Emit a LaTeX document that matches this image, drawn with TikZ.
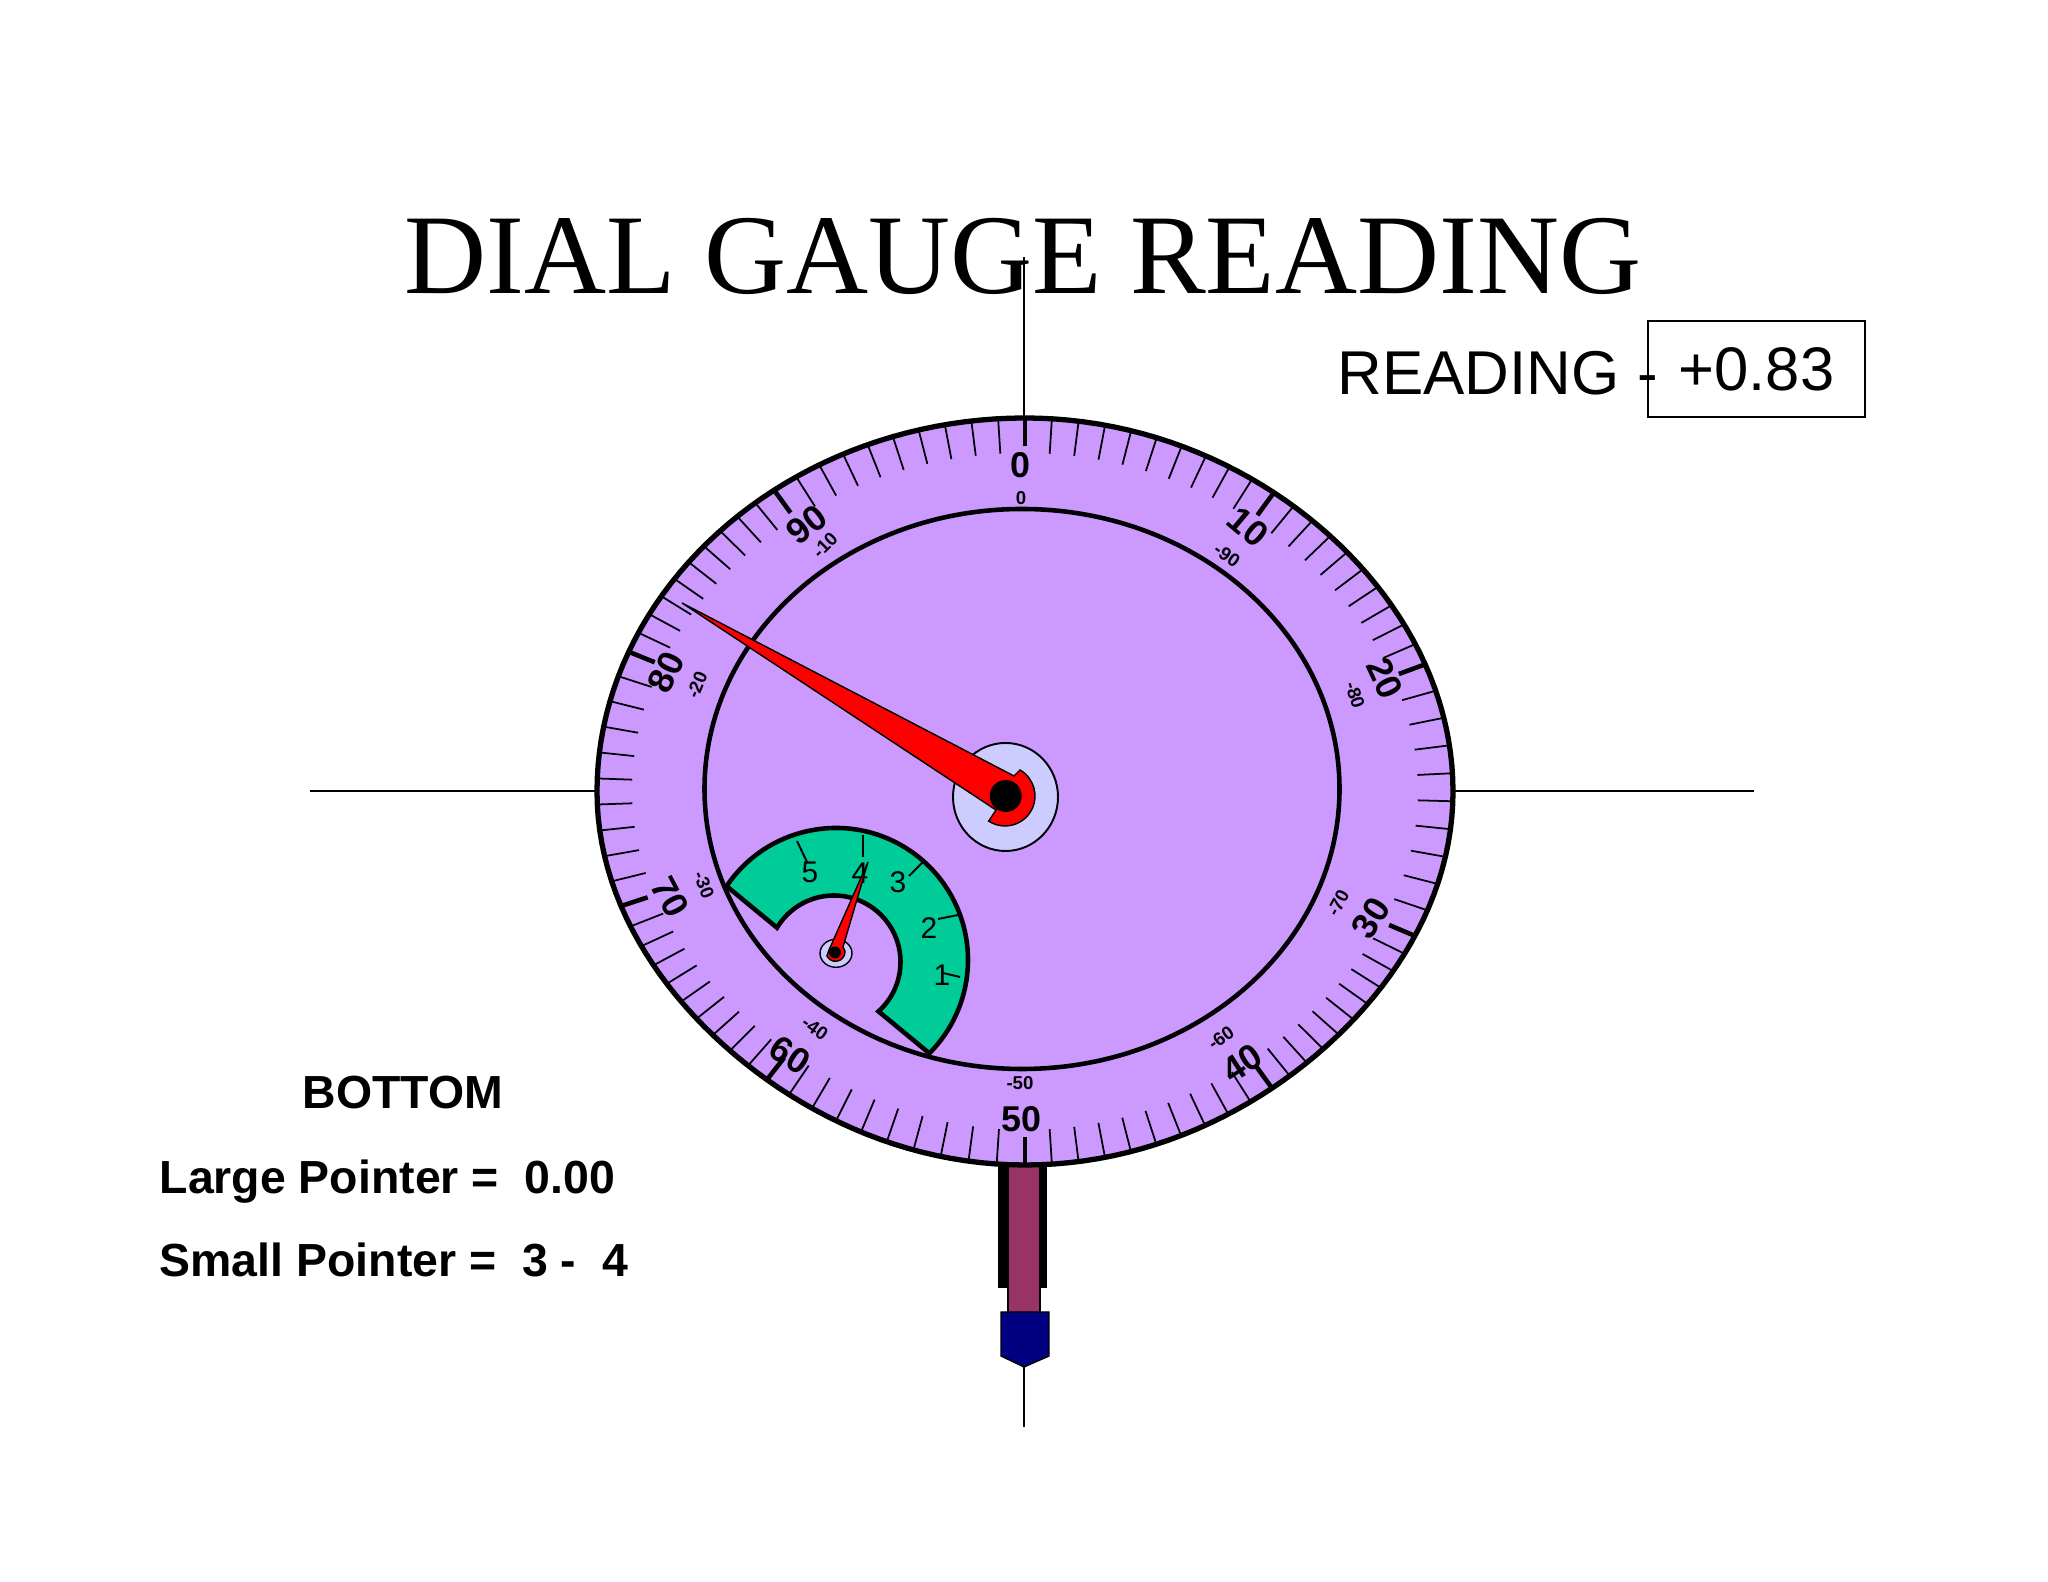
\documentclass[tikz,border=0pt]{standalone}
\usepackage{fontspec}
\usepackage{xcolor}
\setmainfont{Liberation Sans}
\newfontfamily\titlefont{Liberation Serif}
\definecolor{dialface}{HTML}{CC99FF}
\definecolor{hubface}{HTML}{CCCCFF}
\definecolor{sectorface}{HTML}{00CC99}
\definecolor{stemface}{HTML}{993366}
\definecolor{tipface}{HTML}{000080}
\tikzstyle{axisline}=[draw=black, line width=0.45pt]
\tikzstyle{rim}=[draw=black, line width=1.5pt]
\tikzstyle{innerrim}=[draw=black, line width=1.3pt]
\tikzstyle{bigtick}=[draw=black, line width=1.3pt]
\tikzstyle{smalltick}=[draw=black, line width=0.5pt]
\tikzstyle{sectortick}=[draw=black, line width=0.55pt]
\tikzstyle{pointer}=[draw=black, line width=0.4pt, fill=red]
\tikzstyle{bignum}=[font=\bfseries\fontsize{10.2}{12}\selectfont, inner sep=0pt]
\tikzstyle{smallnum}=[font=\bfseries\fontsize{5.3}{6}\selectfont, inner sep=0pt]
\tikzstyle{sectornum}=[font=\fontsize{8.5}{10}\selectfont, inner sep=0pt]
\tikzstyle{notes}=[font=\bfseries\fontsize{13.2}{15}\selectfont, inner sep=0pt, anchor=base west]
\begin{document}
\begin{tikzpicture}[x=0.01cm, y=0.01cm, declare function={rimf(\t)=1-(\t<90?0.012:(\t<180?0.02:(\t<270?0.022:0.003)))*sin(2*\t)^2;}]
            \useasboundingbox (0,0) rectangle (2048,1582);
            \node[font=\titlefont\fontsize{32.3}{36}\selectfont, inner sep=0pt, anchor=base west] (title) at (404,1288) {DIAL GAUGE READING};
            \node[font=\fontsize{17.6}{20}\selectfont, inner sep=0pt, anchor=base west] (reading) at (1337,1187) {READING\hspace{5pt}-};
            \node[draw=black, line width=0.55pt, minimum width=2.17cm, minimum height=0.96cm, inner sep=0pt, font=\fontsize{17.5}{20}\selectfont] (value) at (1756.5,1213) {+0.83};
            % axis lines
            \coordinate (axtop) at (1024,1325);
            \coordinate (axbottom) at (1024,155);
            \coordinate (axleft) at (310,791);
            \coordinate (axright) at (1754,791);
            \coordinate (rimtop) at (1024,1160);
            \coordinate (rimleft) at (600,791);
            \coordinate (rimright) at (1450,791);
            \coordinate (tipend) at (1024,215);
            \draw[axisline] (axtop) -- (rimtop);
            \draw[axisline] (axleft) -- (rimleft);
            \draw[axisline] (rimright) -- (axright);
            \draw[axisline] (tipend) -- (axbottom);
            % stem
            \fill[black] (998,294) rectangle (1047,425);
            \draw[fill=stemface, draw=black, line width=0.3pt] (1008,265) rectangle (1040,294);
            \fill[stemface] (1009,280) rectangle (1039,425);
            \draw[fill=tipface, draw=black, line width=0.4pt] (1001,270) -- (1049,270) -- (1049,226) -- (tipend) -- (1001,226) -- cycle;
            % dial
            \fill[dialface] plot[domain=0:360, samples=181] ({1025+428*rimf(\x)*sin(\x)},{790.5+373.5*rimf(\x)*cos(\x)}) -- cycle;
            \foreach \a/\b in {0/36,36/70,70/113,113/144,144/180,180/218,218/252,252/292,292/324,324/360}{
                \draw[bigtick] ({1025+428*rimf(\a)*sin(\a)},{790.5+373.5*rimf(\a)*cos(\a)}) -- ++({-28*sin(\a)},{-28*cos(\a)});
                \foreach \i in {1,...,9}{
                    \pgfmathsetmacro{\t}{\a+(\b-\a)*\i/10}
                    \draw[smalltick] ({1025+428*rimf(\t)*sin(\t)},{790.5+373.5*rimf(\t)*cos(\t)}) -- ++({-35*sin(\t)},{-35*cos(\t)});
                }
            }
            \draw[rim] plot[domain=0:360, samples=181] ({1025+428*rimf(\x)*sin(\x)},{790.5+373.5*rimf(\x)*cos(\x)}) -- cycle;
            \draw[innerrim] (1022,793) ellipse [x radius=317.5, y radius=280];
            \foreach \lab/\x/\y/\rot in {0/1020/1117/0, 10/1248/1055/-40, 20/1385/904/-65, 30/1371/664/58, 40/1242/519/33, 50/1021/463/0, 60/790/527/-33, 70/670/685/-62, 80/666/910/65, 90/807/1057/38}{
                \node[bignum, rotate=\rot] (maj\lab) at (\x,\y) {\lab};
            }
            \foreach \lab/\x/\y/\rot in {0/1021/1084/0, -10/825/1037/45, -20/697/897/68, -30/704/697/-68, -40/815/554/-35, -50/1020/499/0, -60/1221/544/35, -70/1338/679/62, -80/1355/887/-72, -90/1227/1027/-35}{
                \node[smallnum, rotate=\rot] (min\lab) at (\x,\y) {\lab};
            }
            % small scale
            \coordinate (sectorc) at (836,622);
            \draw[innerrim, fill=sectorface] (sectorc) ++(146:132) arc[start angle=146, end angle=-45, radius=132] -- (878.5,570.6) arc[start angle=-48, end angle=149, radius=66.5] -- cycle;
            \draw[sectortick] (960,605) -- (943,609);
            \draw[sectortick] (958,667) -- (938,663);
            \draw[sectortick] (923,720) -- (909,706);
            \draw[sectortick] (863,747) -- (863,725);
            \draw[sectortick] (797,741) -- (807,720);
            \node[sectornum] (s1) at (942,607) {1};
            \node[sectornum] (s2) at (929,654) {2};
            \node[sectornum] (s3) at (898,700) {3};
            \node[sectornum] (s4) at (860,709) {4};
            \node[sectornum] (s5) at (810,710) {5};
            % small pointer
            \draw[fill=hubface, line width=0.4pt] (836,628.7) ellipse [x radius=16, y radius=14];
            \draw[pointer] (868,720) -- (843,635) -- (845,631) arc[start angle=5, end angle=-155, radius=9.5] -- (829,632) -- cycle;
            \fill[black] (835,629.5) circle [radius=6];
            % large pointer
            \draw[fill=hubface, line width=0.55pt] (1005.5,785) ellipse [x radius=52.5, y radius=54];
            \draw[pointer] (682,979) -- (1014,806) -- (1020,812) arc[start angle=60, end angle=-123, radius=30] -- (996,772) -- cycle;
            \fill[black] (1005.7,786) circle [radius=16];
            % notes
            \node[notes] (bottom) at (302,473) {BOTTOM};
            \node[notes] (large) at (159,388) {Large Pointer =\ \ 0.00};
            \node[notes] (small) at (159,305) {Small Pointer =\ \ 3 -\ \ 4};
        \end{tikzpicture}
\end{document}
